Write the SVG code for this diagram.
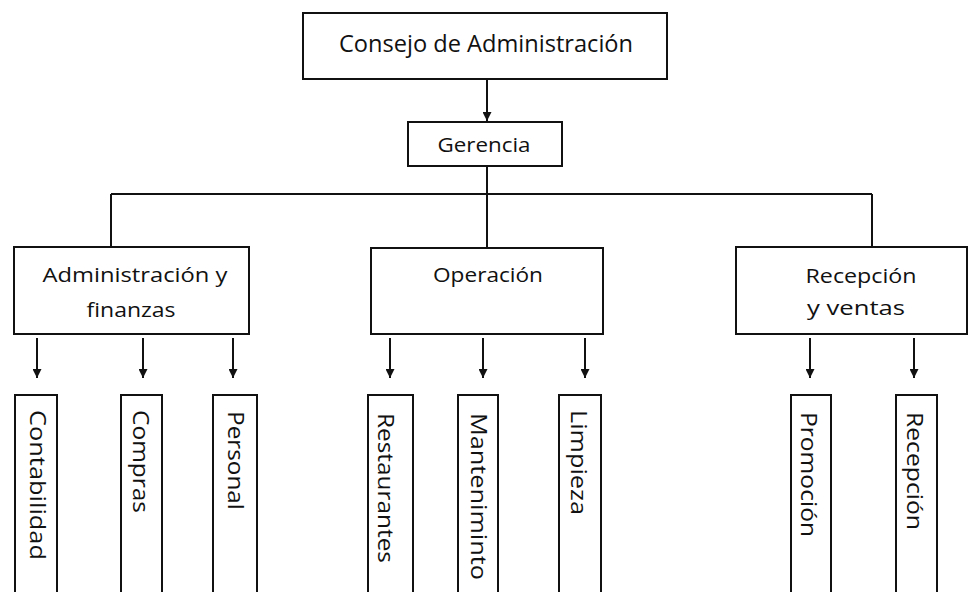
<svg xmlns="http://www.w3.org/2000/svg" width="971" height="592" viewBox="0 0 971 592">
<style>
.box{fill:#fff;stroke:#111;stroke-width:2}
.ln{fill:none;stroke:#111;stroke-width:2}
.t{font-family:"Open Sans","Liberation Sans",sans-serif;fill:#111;text-anchor:middle}
.v{font-family:"Open Sans","Liberation Sans",sans-serif;fill:#111;font-size:22px}
</style>
<defs>
<marker id="ah" viewBox="0 0 10 10" refX="10" refY="5" markerWidth="5" markerHeight="4.5" orient="auto" markerUnits="strokeWidth">
<path d="M0,0 L10,5 L0,10 z" fill="#111"/>
</marker>
</defs>
<g id="connectors">
<line class="ln" x1="487" y1="79" x2="487" y2="121" marker-end="url(#ah)"/>
<line class="ln" x1="487" y1="166" x2="487" y2="248"/>
<line class="ln" x1="111" y1="194" x2="872" y2="194"/>
<line class="ln" x1="111" y1="194" x2="111" y2="247"/>
<line class="ln" x1="872" y1="194" x2="872" y2="247"/>
<line class="ln" x1="37" y1="338" x2="37" y2="378" marker-end="url(#ah)"/>
<line class="ln" x1="143" y1="338" x2="143" y2="378" marker-end="url(#ah)"/>
<line class="ln" x1="233" y1="338" x2="233" y2="378" marker-end="url(#ah)"/>
<line class="ln" x1="390" y1="338" x2="390" y2="378" marker-end="url(#ah)"/>
<line class="ln" x1="483" y1="338" x2="483" y2="378" marker-end="url(#ah)"/>
<line class="ln" x1="585" y1="338" x2="585" y2="378" marker-end="url(#ah)"/>
<line class="ln" x1="810" y1="338" x2="810" y2="378" marker-end="url(#ah)"/>
<line class="ln" x1="914" y1="338" x2="914" y2="378" marker-end="url(#ah)"/>
</g>
<g id="consejo">
<rect class="box" x="303" y="13" width="364" height="66"/>
<text class="t" x="486" y="52" font-size="24" textLength="294" lengthAdjust="spacingAndGlyphs">Consejo de Administración</text>
</g>
<g id="gerencia">
<rect class="box" x="408" y="122" width="154" height="44"/>
<text class="t" x="484" y="152" font-size="20" textLength="93" lengthAdjust="spacingAndGlyphs">Gerencia</text>
</g>
<g id="admin">
<rect class="box" x="14" y="247" width="235" height="87"/>
<text class="t" x="135" y="282" font-size="20" textLength="185" lengthAdjust="spacingAndGlyphs">Administración y</text>
<text class="t" x="131" y="317" font-size="20" textLength="89" lengthAdjust="spacingAndGlyphs">finanzas</text>
</g>
<g id="operacion">
<rect class="box" x="371" y="248" width="232" height="86"/>
<text class="t" x="488" y="282" font-size="20" textLength="110" lengthAdjust="spacingAndGlyphs">Operación</text>
</g>
<g id="recepcion-ventas">
<rect class="box" x="736" y="247" width="231" height="87"/>
<text class="t" x="861" y="283" font-size="20" textLength="111" lengthAdjust="spacingAndGlyphs">Recepción</text>
<text class="t" x="856" y="315" font-size="20" textLength="98" lengthAdjust="spacingAndGlyphs">y ventas</text>
</g>
<g id="contabilidad">
<rect class="box" x="15" y="395" width="42" height="210"/>
<text class="v" x="30" y="410" transform="rotate(90 30 410)" textLength="150" lengthAdjust="spacingAndGlyphs">Contabilidad</text>
</g>
<g id="compras">
<rect class="box" x="121" y="395" width="41" height="210"/>
<text class="v" x="133" y="410" transform="rotate(90 133 410)" textLength="103" lengthAdjust="spacingAndGlyphs">Compras</text>
</g>
<g id="personal">
<rect class="box" x="213" y="395" width="44" height="210"/>
<text class="v" x="228" y="411" transform="rotate(90 228 411)" textLength="99" lengthAdjust="spacingAndGlyphs">Personal</text>
</g>
<g id="restaurantes">
<rect class="box" x="368" y="395" width="45" height="210"/>
<text class="v" x="378" y="413" transform="rotate(90 378 413)" textLength="150" lengthAdjust="spacingAndGlyphs">Restaurantes</text>
</g>
<g id="mantenimiento">
<rect class="box" x="458" y="395" width="40" height="210"/>
<text class="v" x="471" y="413" transform="rotate(90 471 413)" textLength="167" lengthAdjust="spacingAndGlyphs">Manteniminto</text>
</g>
<g id="limpieza">
<rect class="box" x="559" y="395" width="42" height="210"/>
<text class="v" x="571" y="410" transform="rotate(90 571 410)" textLength="105" lengthAdjust="spacingAndGlyphs">Limpieza</text>
</g>
<g id="promocion">
<rect class="box" x="791" y="395" width="40" height="210"/>
<text class="v" x="801" y="412" transform="rotate(90 801 412)" textLength="125" lengthAdjust="spacingAndGlyphs">Promoción</text>
</g>
<g id="recepcion">
<rect class="box" x="896" y="395" width="41" height="210"/>
<text class="v" x="907" y="412" transform="rotate(90 907 412)" textLength="118" lengthAdjust="spacingAndGlyphs">Recepción</text>
</g>
</svg>
